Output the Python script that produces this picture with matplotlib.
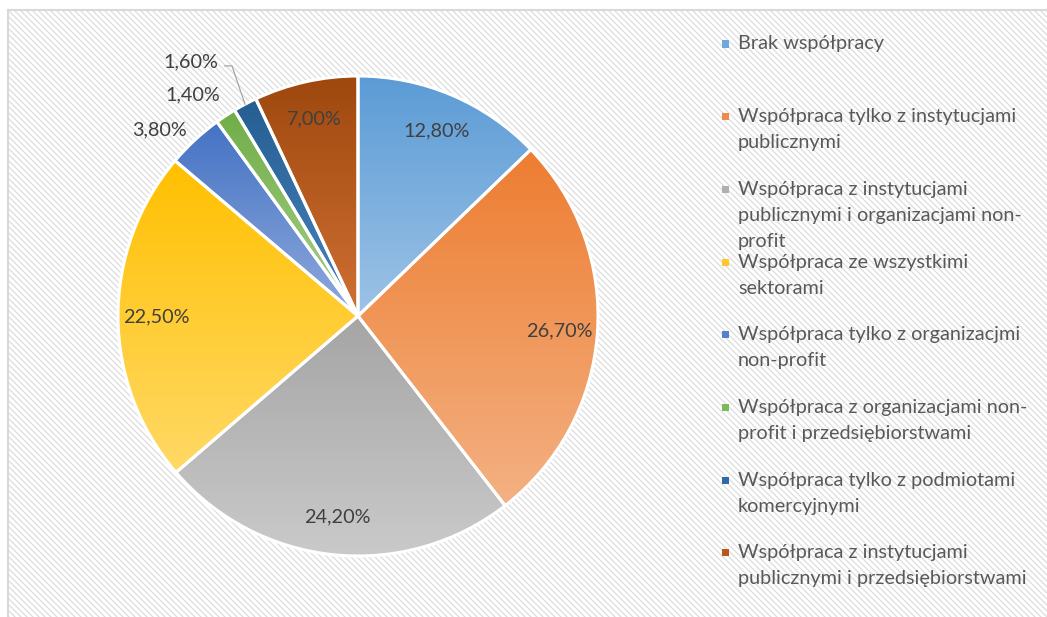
import numpy as np
import matplotlib
matplotlib.use("Agg")
import matplotlib.pyplot as plt
from matplotlib.patches import Rectangle
from matplotlib.colors import LinearSegmentedColormap

plt.rcParams["font.family"] = ["Lato", "DejaVu Sans"]

# dane
kategorie = [
    "Brak współpracy",
    "Współpraca tylko z instytucjami\npublicznymi",
    "Współpraca z instytucjami\npublicznymi i organizacjami non-\nprofit",
    "Współpraca ze wszystkimi\nsektorami",
    "Współpraca tylko z organizacjmi\nnon-profit",
    "Współpraca z organizacjami non-\nprofit i przedsiębiorstwami",
    "Współpraca tylko z podmiotami\nkomercyjnymi",
    "Współpraca z instytucjami\npublicznymi i przedsiębiorstwami",
]
wartosci = [12.8, 26.7, 24.2, 22.5, 3.8, 1.4, 1.6, 7.0]
etykiety = ["12,80%", "26,70%", "24,20%", "22,50%", "3,80%", "1,40%", "1,60%", "7,00%"]

# kolory gradientu: gora -> dol
kolory_gora = ["#5b9bd5", "#ed7d31", "#a5a5a5", "#ffc000", "#4472c4", "#70ad47", "#255e91", "#9e480e"]
kolory_dol = ["#9dc3e6", "#f4b183", "#cacaca", "#ffd966", "#8faadc", "#a9d18e", "#4a85c0", "#d07034"]
kolory_legenda = ["#6fa8dc", "#ef8a4a", "#b0b0b0", "#ffc72c", "#5580cc", "#7db85a", "#2f6aa3", "#b8581c"]

W, H = 1047, 617
fig = plt.figure(figsize=(W / 100, H / 100), dpi=100)
fig.patch.set_facecolor("white")

def px(x, y):
    # piksele obrazka (od gory) -> wspolrzedne figury
    return x / W, 1 - y / H

# tlo w ukosne paski (jak w Excelu)
bx, by = px(8, 10)
bg = fig.add_axes([bx, 0, 1 - bx, by])
bg.set_zorder(-5)
nw, nh = W - 8, H - 10
yy_, xx_ = np.mgrid[0:nh, 0:nw]
d = (xx_ - yy_) % 6
tlo = np.ones((nh, nw))
tlo[d == 0] = 0.87
tlo[(d == 1) | (d == 5)] = 0.94
bg.imshow(tlo, cmap="gray", vmin=0, vmax=1, interpolation="nearest", aspect="auto")
bg.axis("off")
fig.patches.append(Rectangle((bx, -0.05), 1.1, by + 0.05, transform=fig.transFigure,
                             facecolor="none", edgecolor="#d9d9d9", linewidth=1.5, zorder=-4))

# os wykresu: srodek (358,316), promien 240 px
R = 240
L = 1.45
cx, cy = 358, 316
size = 2 * L * R
ax = fig.add_axes([(cx - size / 2) / W, (H - cy - size / 2) / H, size / W, size / H])
ax.patch.set_visible(False)

wedges, _ = ax.pie(wartosci, startangle=90, counterclock=False,
                   wedgeprops=dict(edgecolor="white", linewidth=2.2))

# gradient w kazdym wycinku
for w, c1, c2 in zip(wedges, kolory_gora, kolory_dol):
    t = np.radians(np.linspace(w.theta1, w.theta2, 200))
    xs = np.concatenate([[0], np.cos(t)])
    ys = np.concatenate([[0], np.sin(t)])
    cmap = LinearSegmentedColormap.from_list("g", [c2, c1])
    grad = np.linspace(0, 1, 256).reshape(-1, 1)
    im = ax.imshow(grad, cmap=cmap, origin="lower", aspect="auto",
                   extent=[xs.min(), xs.max(), ys.min(), ys.max()], zorder=1)
    im.set_clip_path(w)
    w.set_facecolor("none")
    w.set_zorder(2)
ax.set_xlim(-L, L)
ax.set_ylim(-L, L)
ax.set_aspect("equal")
ax.axis("off")

# etykiety
srodki = [np.radians((w.theta1 + w.theta2) / 2) for w in wedges]
kolor_tekstu = "#404040"
fs = 14.3
for i, (a, txt) in enumerate(zip(srodki, etykiety)):
    if wartosci[i] > 5:
        r = 0.84
        ax.text(r * np.cos(a), r * np.sin(a), txt, ha="center", va="center",
                color=kolor_tekstu, fontsize=fs, zorder=5)

# etykiety poza kolem (male wycinki)
poza = {4: (-0.825, 0.775), 5: (-0.69, 0.92), 6: (-0.695, 1.058)}
for i, (x, y) in poza.items():
    ax.text(x, y, etykiety[i], ha="center", va="center", color=kolor_tekstu,
            fontsize=fs, zorder=5)
# linia odniesienia dla 1,60%
a = srodki[6]
ax.plot([-0.555, -0.525, np.cos(a)], [1.042, 1.042, np.sin(a)],
        color="#a6a6a6", linewidth=0.9, zorder=4)

# legenda
y0 = 44
krok = 72.7
linia = 26
for i, (kat, kol) in enumerate(zip(kategorie, kolory_legenda)):
    yy = y0 + i * krok
    mx, my = px(722, yy + 3.5)
    fig.patches.append(Rectangle((mx, my), 7 / W, 7 / H, transform=fig.transFigure,
                                 facecolor=kol, edgecolor="none", zorder=3))
    for k, ln in enumerate(kat.split("\n")):
        tx, ty = px(738, yy + k * linia)
        fig.text(tx, ty, ln, ha="left", va="center", color="#595959", fontsize=fs)

fig.savefig("out.png", dpi=100)
